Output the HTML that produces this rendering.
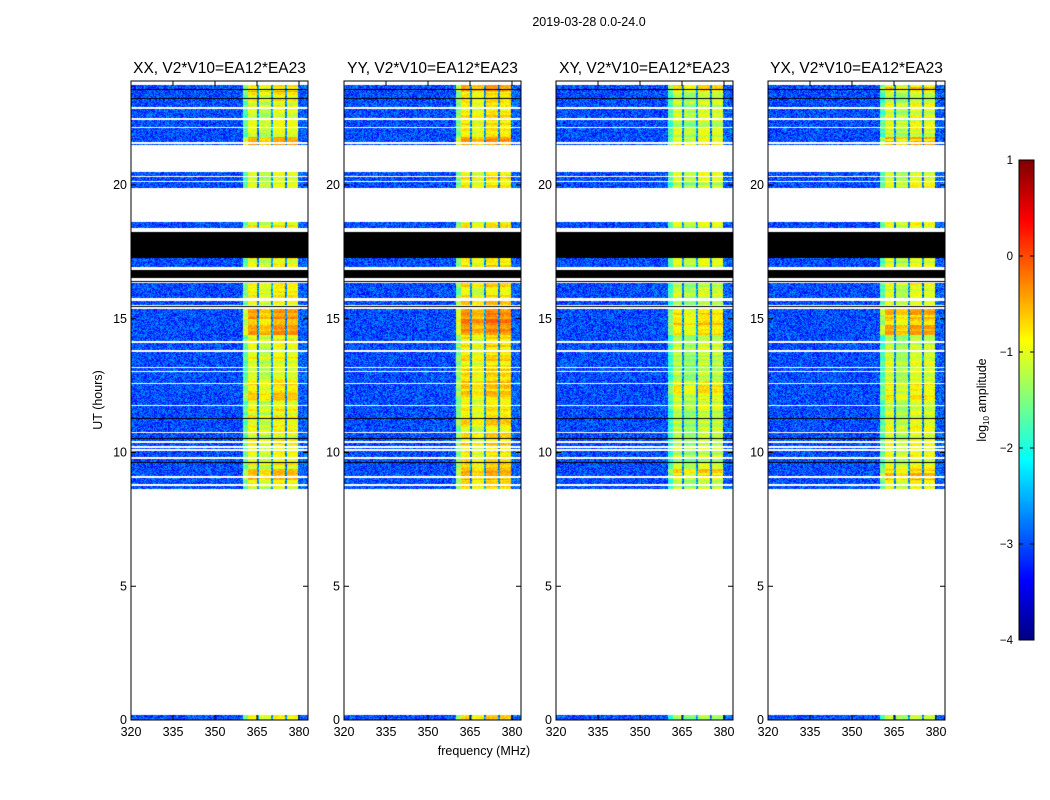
<!DOCTYPE html>
<html><head><meta charset="utf-8">
<style>
body{margin:0;background:#fff;width:1050px;height:800px;overflow:hidden;font-family:"Liberation Sans",sans-serif;}
#wrap{position:relative;width:1050px;height:800px;}
canvas{position:absolute;}
svg{position:absolute;left:0;top:0;}
</style></head>
<body>
<div id="wrap">
<canvas id="c0" width="177" height="639" style="left:131px;top:81px"></canvas>
<canvas id="c1" width="177" height="639" style="left:344px;top:81px"></canvas>
<canvas id="c2" width="177" height="639" style="left:556px;top:81px"></canvas>
<canvas id="c3" width="177" height="639" style="left:768px;top:81px"></canvas>
<canvas id="cb" width="15" height="480" style="left:1019px;top:160px"></canvas>
<svg id="ov" width="1050" height="800"></svg>
</div>
<script>
// ---- data ----
const panelTitles = ["XX, V2*V10=EA12*EA23","YY, V2*V10=EA12*EA23","XY, V2*V10=EA12*EA23","YX, V2*V10=EA12*EA23"];
const xTicks = [320,335,350,365,380];
const yTicks = [0,5,10,15,20];
const cbTicks = [1,0,-1,-2,-3,-4];
// time bands (hours) where data exist
const dataBands = [[0,0.2],[8.65,8.75],[8.85,15.4],[15.55,15.7],[15.8,16.35],[16.97,17.3],[18.4,18.65],[19.9,20.5],[21.5,22.85],[22.95,23.75]];
const blackBands = [[17.3,18.28],[16.56,16.86],[23.58,23.62],[23.22,23.27],[11.27,11.32],[10.52,10.57],[9.62,9.68],[16.38,16.42],[15.45,15.5]];
const whiteLines = [22.5,22.17,21.6,20.34,20.15,14.14,13.8,13.2,13.05,12.6,11.78,10.77,10.4,10.24,10.1,9.8,9.1];
// frequency profile: [fStart,fEnd,level]
const freqProfile = [[320,360,-3.0],[360,361.5,-1.7],[361.5,365,-1.0],[365,365.6,-2.7],[365.6,370,-1.2],[370,370.6,-2.6],[370.6,375,-0.95],[375,375.6,-2.7],[375.6,379.6,-1.0],[379.6,384,-2.9]];
// per-panel offsets for the bright band
const panelBoost = [0.05,0.2,-0.15,-0.05];
// bright (hotter) time ranges
const hotBands = [[14.4,15.4,0.45],[21.5,21.8,0.4],[9.0,9.4,0.35],[23.5,23.75,0.3],[12,12.7,0.2]];

const X0=320, PXMHZ=2.8, H=639, W=177, HR_TOP=23.89, PXHR=26.75;
function jet(v){ // v in [-4,1]
  let t=(v+4)/5; t=Math.max(0,Math.min(1,t));
  const r=Math.max(0,Math.min(1,1.5-Math.abs(4*t-3)));
  const g=Math.max(0,Math.min(1,1.5-Math.abs(4*t-2)));
  const b=Math.max(0,Math.min(1,1.5-Math.abs(4*t-1)));
  return [r*255|0,g*255|0,b*255|0];
}
function hash(a,b,c){let h=(a*374761393+b*668265263+c*2147483647)|0;h=(h^(h>>>13))*1274126177|0;return ((h^(h>>>16))>>>0)/4294967296;}
function inB(h,arr){for(const b of arr){if(h>=b[0]&&h<b[1])return b;}return null;}
function freqLevel(f){for(const s of freqProfile){if(f>=s[0]&&f<s[1])return s[2];}return -2.9;}

for(let p=0;p<4;p++){
  const cv=document.getElementById('c'+p),ctx=cv.getContext('2d');
  const im=ctx.createImageData(W,H),d=im.data;
  for(let y=0;y<H;y++){
    const hr=HR_TOP-y/PXHR;
    let kind='white';
    if(inB(hr,dataBands))kind='data';
    if(inB(hr,blackBands))kind='black';
    for(const w of whiteLines){if(Math.abs(hr-w)<0.035)kind='white';}
    const hot=inB(hr,hotBands);
    const rowOff=(hash(y>>1,7,p)-0.5)*0.5;
    for(let x=0;x<W;x++){
      const i=(y*W+x)*4;let c;
      if(kind==='white')c=[255,255,255];
      else if(kind==='black')c=[0,0,0];
      else{
        const f=X0+x/PXMHZ;let v=freqLevel(f);
        const bright=v>-2;
        if(bright){v+=panelBoost[p]+(hot?hot[2]:0)+rowOff;}
        v+=(hash(x,y,p)-0.5)*(bright?0.35:0.9);
        c=jet(v);
      }
      d[i]=c[0];d[i+1]=c[1];d[i+2]=c[2];d[i+3]=255;
    }
  }
  ctx.putImageData(im,0,0);
}
// colorbar
(function(){const ctx=document.getElementById('cb').getContext('2d');
for(let y=0;y<480;y++){const c=jet(1-5*y/480);ctx.fillStyle=`rgb(${c[0]},${c[1]},${c[2]})`;ctx.fillRect(0,y,15,1);}})();

// overlay axes
const NS='http://www.w3.org/2000/svg',ov=document.getElementById('ov');
function el(t,a,txt){const e=document.createElementNS(NS,t);for(const k in a)e.setAttribute(k,a[k]);if(txt!==undefined)e.textContent=txt;ov.appendChild(e);return e;}
const lefts=[131,344,556,768],TOP=81,BOT=720;
const xs=(left,f)=>left+(f-X0)*PXMHZ, ys=h=>BOT-h*PXHR;
for(let p=0;p<4;p++){
  const L=lefts[p];
  const fr=el('rect',{x:L,y:TOP,width:W,height:H,fill:'none',stroke:'#000','stroke-width':1});
  
  const t=el('text',{x:L+W/2,y:73,'text-anchor':'middle','font-size':'15.5'},panelTitles[p]);
  
  for(const f of xTicks){const x=xs(L,f);
    el('line',{x1:x,x2:x,y1:BOT,y2:BOT-5,stroke:'#000'});el('line',{x1:x,x2:x,y1:TOP,y2:TOP+5,stroke:'#000'});
    const tl=el('text',{x:x,y:BOT+16,'text-anchor':'middle','font-size':'12.5'},String(f));
    }
  for(const h of yTicks){const y=ys(h);
    el('line',{x1:L,x2:L+5,y1:y,y2:y,stroke:'#000'});el('line',{x1:L+W-5,x2:L+W,y1:y,y2:y,stroke:'#000'});
    const tl=el('text',{x:L-4,y:y+4,'text-anchor':'end','font-size':'12.5'},String(h));
    }
}
const st=el('text',{x:589,y:26,'text-anchor':'middle','font-size':'12.5'},'2019-03-28 0.0-24.0');

const yl=el('text',{x:0,y:0,'text-anchor':'middle','font-size':'12.5',transform:'translate(102,400) rotate(-90)'},'UT (hours)');

const xl=el('text',{x:484,y:755,'text-anchor':'middle','font-size':'12.5'},'frequency (MHz)');

el('rect',{x:1019,y:160,width:15,height:480,fill:'none',stroke:'#000'});
for(const v of cbTicks){const y=160+(1-v)*96;
  el('line',{x1:1019,x2:1023,y1:y,y2:y,stroke:'#000'});el('line',{x1:1030,x2:1034,y1:y,y2:y,stroke:'#000'});
  const tl=el('text',{x:1013,y:y+4,'text-anchor':'end','font-size':'11.5'},v<0?'\u2212'+(-v):String(v));
  }
const cl=el('text',{x:0,y:0,'text-anchor':'middle','font-size':'12.5',transform:'translate(986,400) rotate(-90)'});
cl.innerHTML='log<tspan font-size="8" dy="3">10</tspan><tspan dy="-3"> amplitude</tspan>';

</script>
</body></html>
